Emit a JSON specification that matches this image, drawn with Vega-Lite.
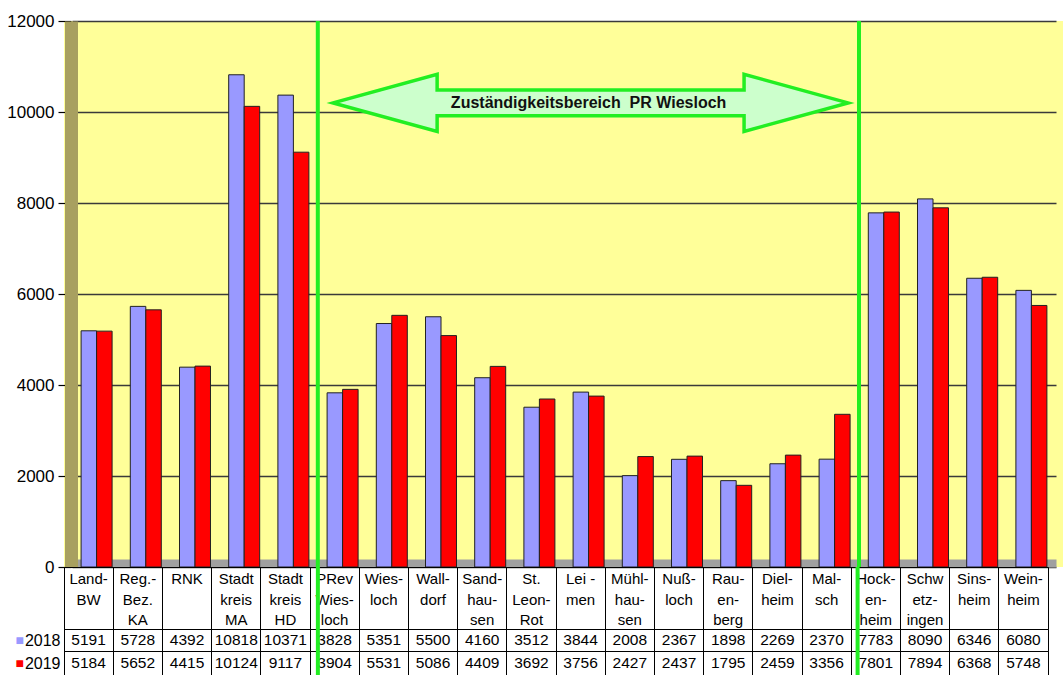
{
  "$schema": "https://vega.github.io/schema/vega-lite/v6.json",
  "padding": {"left": 6, "top": 12, "right": 0, "bottom": 0},
  "background": "white",
  "spacing": 0,
  "bounds": "flush",
  "config": {
    "font": "Liberation Sans",
    "concat": {"spacing": 0}
  },
  "datasets": {
    "werte": [
      {"region": "Land-|BW", "year": "2018", "value": 5191},
      {"region": "Reg.-|Bez.|KA", "year": "2018", "value": 5728},
      {"region": "RNK", "year": "2018", "value": 4392},
      {"region": "Stadt|kreis|MA", "year": "2018", "value": 10818},
      {"region": "Stadt|kreis|HD", "year": "2018", "value": 10371},
      {"region": "PRev|Wies-|loch", "year": "2018", "value": 3828},
      {"region": "Wies-|loch", "year": "2018", "value": 5351},
      {"region": "Wall-|dorf", "year": "2018", "value": 5500},
      {"region": "Sand-|hau-|sen", "year": "2018", "value": 4160},
      {"region": "St.|Leon-|Rot", "year": "2018", "value": 3512},
      {"region": "Lei -|men", "year": "2018", "value": 3844},
      {"region": "Mühl-|hau-|sen", "year": "2018", "value": 2008},
      {"region": "Nuß-|loch", "year": "2018", "value": 2367},
      {"region": "Rau-|en-|berg", "year": "2018", "value": 1898},
      {"region": "Diel-|heim", "year": "2018", "value": 2269},
      {"region": "Mal-|sch", "year": "2018", "value": 2370},
      {"region": "Hock-|en-|heim", "year": "2018", "value": 7783},
      {"region": "Schw|etz-|ingen", "year": "2018", "value": 8090},
      {"region": "Sins-|heim", "year": "2018", "value": 6346},
      {"region": "Wein-|heim", "year": "2018", "value": 6080},
      {"region": "Land-|BW", "year": "2019", "value": 5184},
      {"region": "Reg.-|Bez.|KA", "year": "2019", "value": 5652},
      {"region": "RNK", "year": "2019", "value": 4415},
      {"region": "Stadt|kreis|MA", "year": "2019", "value": 10124},
      {"region": "Stadt|kreis|HD", "year": "2019", "value": 9117},
      {"region": "PRev|Wies-|loch", "year": "2019", "value": 3904},
      {"region": "Wies-|loch", "year": "2019", "value": 5531},
      {"region": "Wall-|dorf", "year": "2019", "value": 5086},
      {"region": "Sand-|hau-|sen", "year": "2019", "value": 4409},
      {"region": "St.|Leon-|Rot", "year": "2019", "value": 3692},
      {"region": "Lei -|men", "year": "2019", "value": 3756},
      {"region": "Mühl-|hau-|sen", "year": "2019", "value": 2427},
      {"region": "Nuß-|loch", "year": "2019", "value": 2437},
      {"region": "Rau-|en-|berg", "year": "2019", "value": 1795},
      {"region": "Diel-|heim", "year": "2019", "value": 2459},
      {"region": "Mal-|sch", "year": "2019", "value": 3356},
      {"region": "Hock-|en-|heim", "year": "2019", "value": 7801},
      {"region": "Schw|etz-|ingen", "year": "2019", "value": 7894},
      {"region": "Sins-|heim", "year": "2019", "value": 6368},
      {"region": "Wein-|heim", "year": "2019", "value": 5748}
    ]
  },
  "vconcat": [
    {
      "width": 999,
      "height": 546,
      "view": {"fill": "#FFFF99", "stroke": null},
      "data": {"name": "werte"},
      "encoding": {
        "x": {
          "field": "region", "type": "nominal", "sort": null,
          "scale": {"range": [8, 992], "paddingInner": 0.37, "paddingOuter": 0.185},
          "axis": {"labels": false, "ticks": false, "title": null, "domainColor": "#A0A0A0", "domainWidth": 8, "offset": -4, "zindex": 0}
        },
        "y": {
          "field": "value", "type": "quantitative",
          "scale": {"domain": [0, 12000], "nice": false},
          "axis": {
            "title": null, "values": [0, 2000, 4000, 6000, 8000, 10000, 12000], "format": "d",
            "grid": true, "gridColor": "#3a3a3a", "gridWidth": 1.5,
            "labelFontSize": 17, "labelColor": "#000", "labelPadding": 4,
            "tickSize": 13, "tickColor": "#000", "tickWidth": 1.2,
            "domainColor": "#A8A060", "domainWidth": 13, "offset": -7, "zindex": 0
          }
        }
      },
      "layer": [
        {
          "mark": {"type": "bar", "stroke": "#222", "strokeWidth": 1},
          "encoding": {
            "xOffset": {"field": "year", "type": "nominal", "scale": {"paddingInner": 0}},
            "color": {
              "field": "year", "type": "nominal",
              "scale": {"domain": ["2018", "2019"], "range": ["#9999FF", "#FF0000"]},
              "legend": null
            }
          }
        },
        {
          "transform": [{"filter": "datum.region == 'PRev|Wies-|loch' && datum.year == '2018'"}],
          "mark": {"type": "rule", "color": "#22EE22", "strokeWidth": 4},
          "encoding": {"x": {"field": "region", "type": "nominal", "sort": null, "bandPosition": -0.3}, "y": null}
        },
        {
          "transform": [{"filter": "datum.region == 'Hock-|en-|heim' && datum.year == '2018'"}],
          "mark": {"type": "rule", "color": "#22EE22", "strokeWidth": 4},
          "encoding": {"x": {"field": "region", "type": "nominal", "sort": null, "bandPosition": -0.3}, "y": null}
        },
        {
          "transform": [{"filter": "datum.region == 'Lei -|men' && datum.year == '2018'"}],
          "mark": {
            "type": "point", "filled": true, "opacity": 1,
            "shape": "M-1,0 L-0.596,-0.111 L-0.596,-0.05 L0.596,-0.05 L0.596,-0.111 L1,0 L0.596,0.111 L0.596,0.05 L-0.596,0.05 L-0.596,0.111 Z",
            "size": 265225, "fill": "#CCFFCC", "stroke": "#22EE22", "strokeWidth": 3.5, "xOffset": 2
          },
          "encoding": {
            "y": {"datum": 10200, "type": "quantitative"}
          }
        },
        {
          "transform": [{"filter": "datum.region == 'Lei -|men' && datum.year == '2018'"}],
          "mark": {"type": "text", "fontWeight": "bold", "fontSize": 16, "color": "#111"},
          "encoding": {
            "y": {"datum": 10200, "type": "quantitative"},
            "text": {"value": "Zuständigkeitsbereich\u00a0 PR Wiesloch"}
          }
        }
      ]
    },
    {
      "width": 984,
      "height": 62,
      "view": {"stroke": "#000", "strokeWidth": 1},
      "data": {"name": "werte"},
      "transform": [{"filter": "datum.year == '2018'"}],
      "encoding": {
        "x": {
          "field": "region", "type": "nominal", "sort": null,
          "scale": {"paddingInner": 0, "paddingOuter": 0},
          "axis": {"grid": true, "bandPosition": 0, "gridColor": "#000", "gridWidth": 1, "labels": false, "ticks": false, "domain": false, "title": null}
        }
      },
      "layer": [
        {
          "mark": {"type": "text", "lineBreak": "|", "fontSize": 15, "lineHeight": 20.5, "baseline": "top", "dy": -26, "color": "#000"},
          "encoding": {"text": {"field": "region"}}
        },
        {
          "transform": [{"filter": "datum.region == 'PRev|Wies-|loch'"}],
          "mark": {"type": "rule", "color": "#22EE22", "strokeWidth": 4},
          "encoding": {"x": {"field": "region", "type": "nominal", "sort": null, "bandPosition": 0.16}}
        },
        {
          "transform": [{"filter": "datum.region == 'Hock-|en-|heim'"}],
          "mark": {"type": "rule", "color": "#22EE22", "strokeWidth": 4},
          "encoding": {"x": {"field": "region", "type": "nominal", "sort": null, "bandPosition": 0.13}}
        }
      ]
    },
    {
      "width": 984,
      "height": 22,
      "view": {"stroke": "#000", "strokeWidth": 1},
      "data": {"name": "werte"},
      "transform": [{"filter": "datum.year == '2018'"}],
      "encoding": {
        "x": {
          "field": "region", "type": "nominal", "sort": null,
          "scale": {"paddingInner": 0, "paddingOuter": 0},
          "axis": {"grid": true, "bandPosition": 0, "gridColor": "#000", "gridWidth": 1, "labels": false, "ticks": false, "domain": false, "title": null}
        }
      },
      "layer": [
        {
          "mark": {"type": "text", "fontSize": 15.5, "color": "#000"},
          "encoding": {
            "y": {
              "field": "year", "type": "nominal",
              "axis": {"title": "■", "titleColor": "#9999FF", "titleAngle": 0, "titleFontSize": 14, "titleFontWeight": "normal", "titlePadding": 1, "titleBaseline": "middle", "titleAlign": "right",
                       "labelFontSize": 16, "labelColor": "#000", "ticks": false, "domain": false, "labelPadding": 4}
            },
            "text": {"field": "value"}
          }
        },
        {
          "transform": [{"filter": "datum.region == 'PRev|Wies-|loch'"}],
          "mark": {"type": "rule", "color": "#22EE22", "strokeWidth": 4},
          "encoding": {"x": {"field": "region", "type": "nominal", "sort": null, "bandPosition": 0.16}}
        },
        {
          "transform": [{"filter": "datum.region == 'Hock-|en-|heim'"}],
          "mark": {"type": "rule", "color": "#22EE22", "strokeWidth": 4},
          "encoding": {"x": {"field": "region", "type": "nominal", "sort": null, "bandPosition": 0.13}}
        }
      ]
    },
    {
      "width": 984,
      "height": 24,
      "view": {"stroke": "#000", "strokeWidth": 1},
      "data": {"name": "werte"},
      "transform": [{"filter": "datum.year == '2019'"}],
      "encoding": {
        "x": {
          "field": "region", "type": "nominal", "sort": null,
          "scale": {"paddingInner": 0, "paddingOuter": 0},
          "axis": {"grid": true, "bandPosition": 0, "gridColor": "#000", "gridWidth": 1, "labels": false, "ticks": false, "domain": false, "title": null}
        }
      },
      "layer": [
        {
          "mark": {"type": "text", "fontSize": 15.5, "color": "#000"},
          "encoding": {
            "y": {
              "field": "year", "type": "nominal",
              "axis": {"title": "■", "titleColor": "#FF0000", "titleAngle": 0, "titleFontSize": 14, "titleFontWeight": "normal", "titlePadding": 1, "titleBaseline": "middle", "titleAlign": "right",
                       "labelFontSize": 16, "labelColor": "#000", "ticks": false, "domain": false, "labelPadding": 4}
            },
            "text": {"field": "value"}
          }
        },
        {
          "transform": [{"filter": "datum.region == 'PRev|Wies-|loch'"}],
          "mark": {"type": "rule", "color": "#22EE22", "strokeWidth": 4},
          "encoding": {"x": {"field": "region", "type": "nominal", "sort": null, "bandPosition": 0.16}}
        },
        {
          "transform": [{"filter": "datum.region == 'Hock-|en-|heim'"}],
          "mark": {"type": "rule", "color": "#22EE22", "strokeWidth": 4},
          "encoding": {"x": {"field": "region", "type": "nominal", "sort": null, "bandPosition": 0.13}}
        }
      ]
    }
  ]
}
